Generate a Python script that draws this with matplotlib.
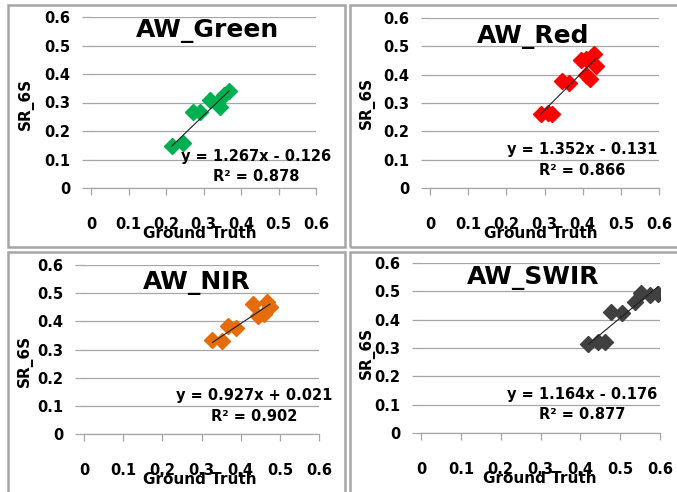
import numpy as np
import matplotlib
matplotlib.use("Agg")
import matplotlib.pyplot as plt
from matplotlib.patches import Rectangle

plt.rcParams['font.family'] = ['DejaVu Sans']
plt.rcParams['font.weight'] = 'bold'

# ground truth vs 6S surface reflectance, per band
green_x = [0.215, 0.245, 0.272, 0.29, 0.318, 0.335, 0.345, 0.355, 0.368]
green_y = [0.148, 0.157, 0.268, 0.268, 0.31, 0.30, 0.285, 0.325, 0.342]
red_x = [0.29, 0.31, 0.32, 0.345, 0.365, 0.395, 0.41, 0.43, 0.435, 0.41, 0.42]
red_y = [0.26, 0.265, 0.262, 0.378, 0.372, 0.452, 0.455, 0.472, 0.43, 0.40, 0.383]
nir_x = [0.328, 0.352, 0.368, 0.388, 0.432, 0.445, 0.46, 0.466, 0.475]
nir_y = [0.335, 0.33, 0.385, 0.378, 0.462, 0.42, 0.426, 0.47, 0.452]
swir_x = [0.42, 0.445, 0.462, 0.478, 0.505, 0.537, 0.553, 0.575, 0.595]
swir_y = [0.315, 0.32, 0.322, 0.427, 0.423, 0.462, 0.494, 0.488, 0.49]

titles = ['AW_Green', 'AW_Red', 'AW_NIR', 'AW_SWIR']
slopes = [1.267, 1.352, 0.927, 1.164]
intercepts = [-0.126, -0.131, 0.021, -0.176]
r2 = [0.878, 0.866, 0.902, 0.877]
ticks = [0, 0.1, 0.2, 0.3, 0.4, 0.5, 0.6]
tick_labels = ['0', '0.1', '0.2', '0.3', '0.4', '0.5', '0.6']

W, H = 677, 492
fig = plt.figure(figsize=(W / 100, H / 100), dpi=100)


def px_box(x0, y0, x1, y1):
    # pixel box (top-left origin) -> figure fraction [left, bottom, width, height]
    return [x0 / W, 1 - y1 / H, (x1 - x0) / W, (y1 - y0) / H]


# panel frames
for (x0, y0, x1, y1) in [(8, 5, 345, 247), (350, 5, 690, 247),
                         (8, 252, 345, 500), (350, 252, 690, 500)]:
    b = px_box(x0, y0, x1, y1)
    fig.add_artist(Rectangle((b[0], b[1]), b[2], b[3], transform=fig.transFigure,
                             fill=False, edgecolor='#a6a6a6', lw=1.8))

boxes = [(91, 17, 316, 188), (430, 18, 659, 188), (84, 265, 319, 434), (421, 263, 660, 433)]
series = [(green_x, green_y, '#00b050'), (red_x, red_y, '#ff0000'),
          (nir_x, nir_y, '#e46c0a'), (swir_x, swir_y, '#404040')]
title_pos = [(0.52, 0.92), (0.45, 0.89), (0.48, 0.895), (0.47, 0.913)]
eq_pos = [(0.733, 0.126), (0.664, 0.165), (0.723, 0.166), (0.674, 0.169)]
ylab_pos = [(-0.253, 0.494), (-0.24, 0.5), (-0.217, 0.432), (-0.192, 0.47)]
xlab_pos = [(0.484, -0.222), (0.483, -0.222), (0.494, -0.225), (0.496, -0.226)]

grid_c = '#a6a6a6'
for i in range(4):
    ax = fig.add_axes(px_box(*boxes[i]))
    xs, ys, col = series[i]
    ax.plot(xs, ys, ls='none', marker='D', ms=8.5, color=col, mec=col, zorder=3)
    xl = np.array([min(xs), max(xs)])
    ax.plot(xl, slopes[i] * xl + intercepts[i], color='#202020', lw=0.8, zorder=4)

    ax.set_xlim(0, 0.6)
    ax.set_ylim(0, 0.6)
    ax.set_xticks(ticks)
    ax.set_yticks(ticks)
    ax.set_xticklabels(tick_labels, fontsize=10.5, fontweight='bold')
    ax.set_yticklabels(tick_labels, fontsize=10.5, fontweight='bold')
    ax.tick_params(axis='x', direction='out', length=5, width=0.9, color=grid_c, pad=16)
    ax.tick_params(axis='y', direction='out', length=6.5, width=0.9, color=grid_c, pad=8.5)
    ax.grid(axis='y', color=grid_c, lw=0.9)
    ax.set_axisbelow(True)
    for s in ['left', 'right', 'top']:
        ax.spines[s].set_visible(False)
    ax.spines['bottom'].set_color(grid_c)
    ax.spines['bottom'].set_linewidth(0.9)

    ax.set_xlabel('Ground Truth', fontsize=11, fontweight='bold')
    ax.xaxis.set_label_coords(*xlab_pos[i])
    ax.set_ylabel('SR_6S', fontsize=11, fontweight='bold')
    ax.yaxis.set_label_coords(*ylab_pos[i])

    ax.text(title_pos[i][0], title_pos[i][1], titles[i], transform=ax.transAxes,
            ha='center', va='center', fontsize=18, fontweight='bold')
    sign = '-' if intercepts[i] < 0 else '+'
    eq = 'y = %.3fx %s %.3f\nR² = %.3f' % (slopes[i], sign, abs(intercepts[i]), r2[i])
    ax.text(eq_pos[i][0], eq_pos[i][1], eq, transform=ax.transAxes, ha='center',
            va='center', multialignment='center', fontsize=10.5, fontweight='bold',
            linespacing=1.45, zorder=5)

fig.savefig('out.png', dpi=100)
